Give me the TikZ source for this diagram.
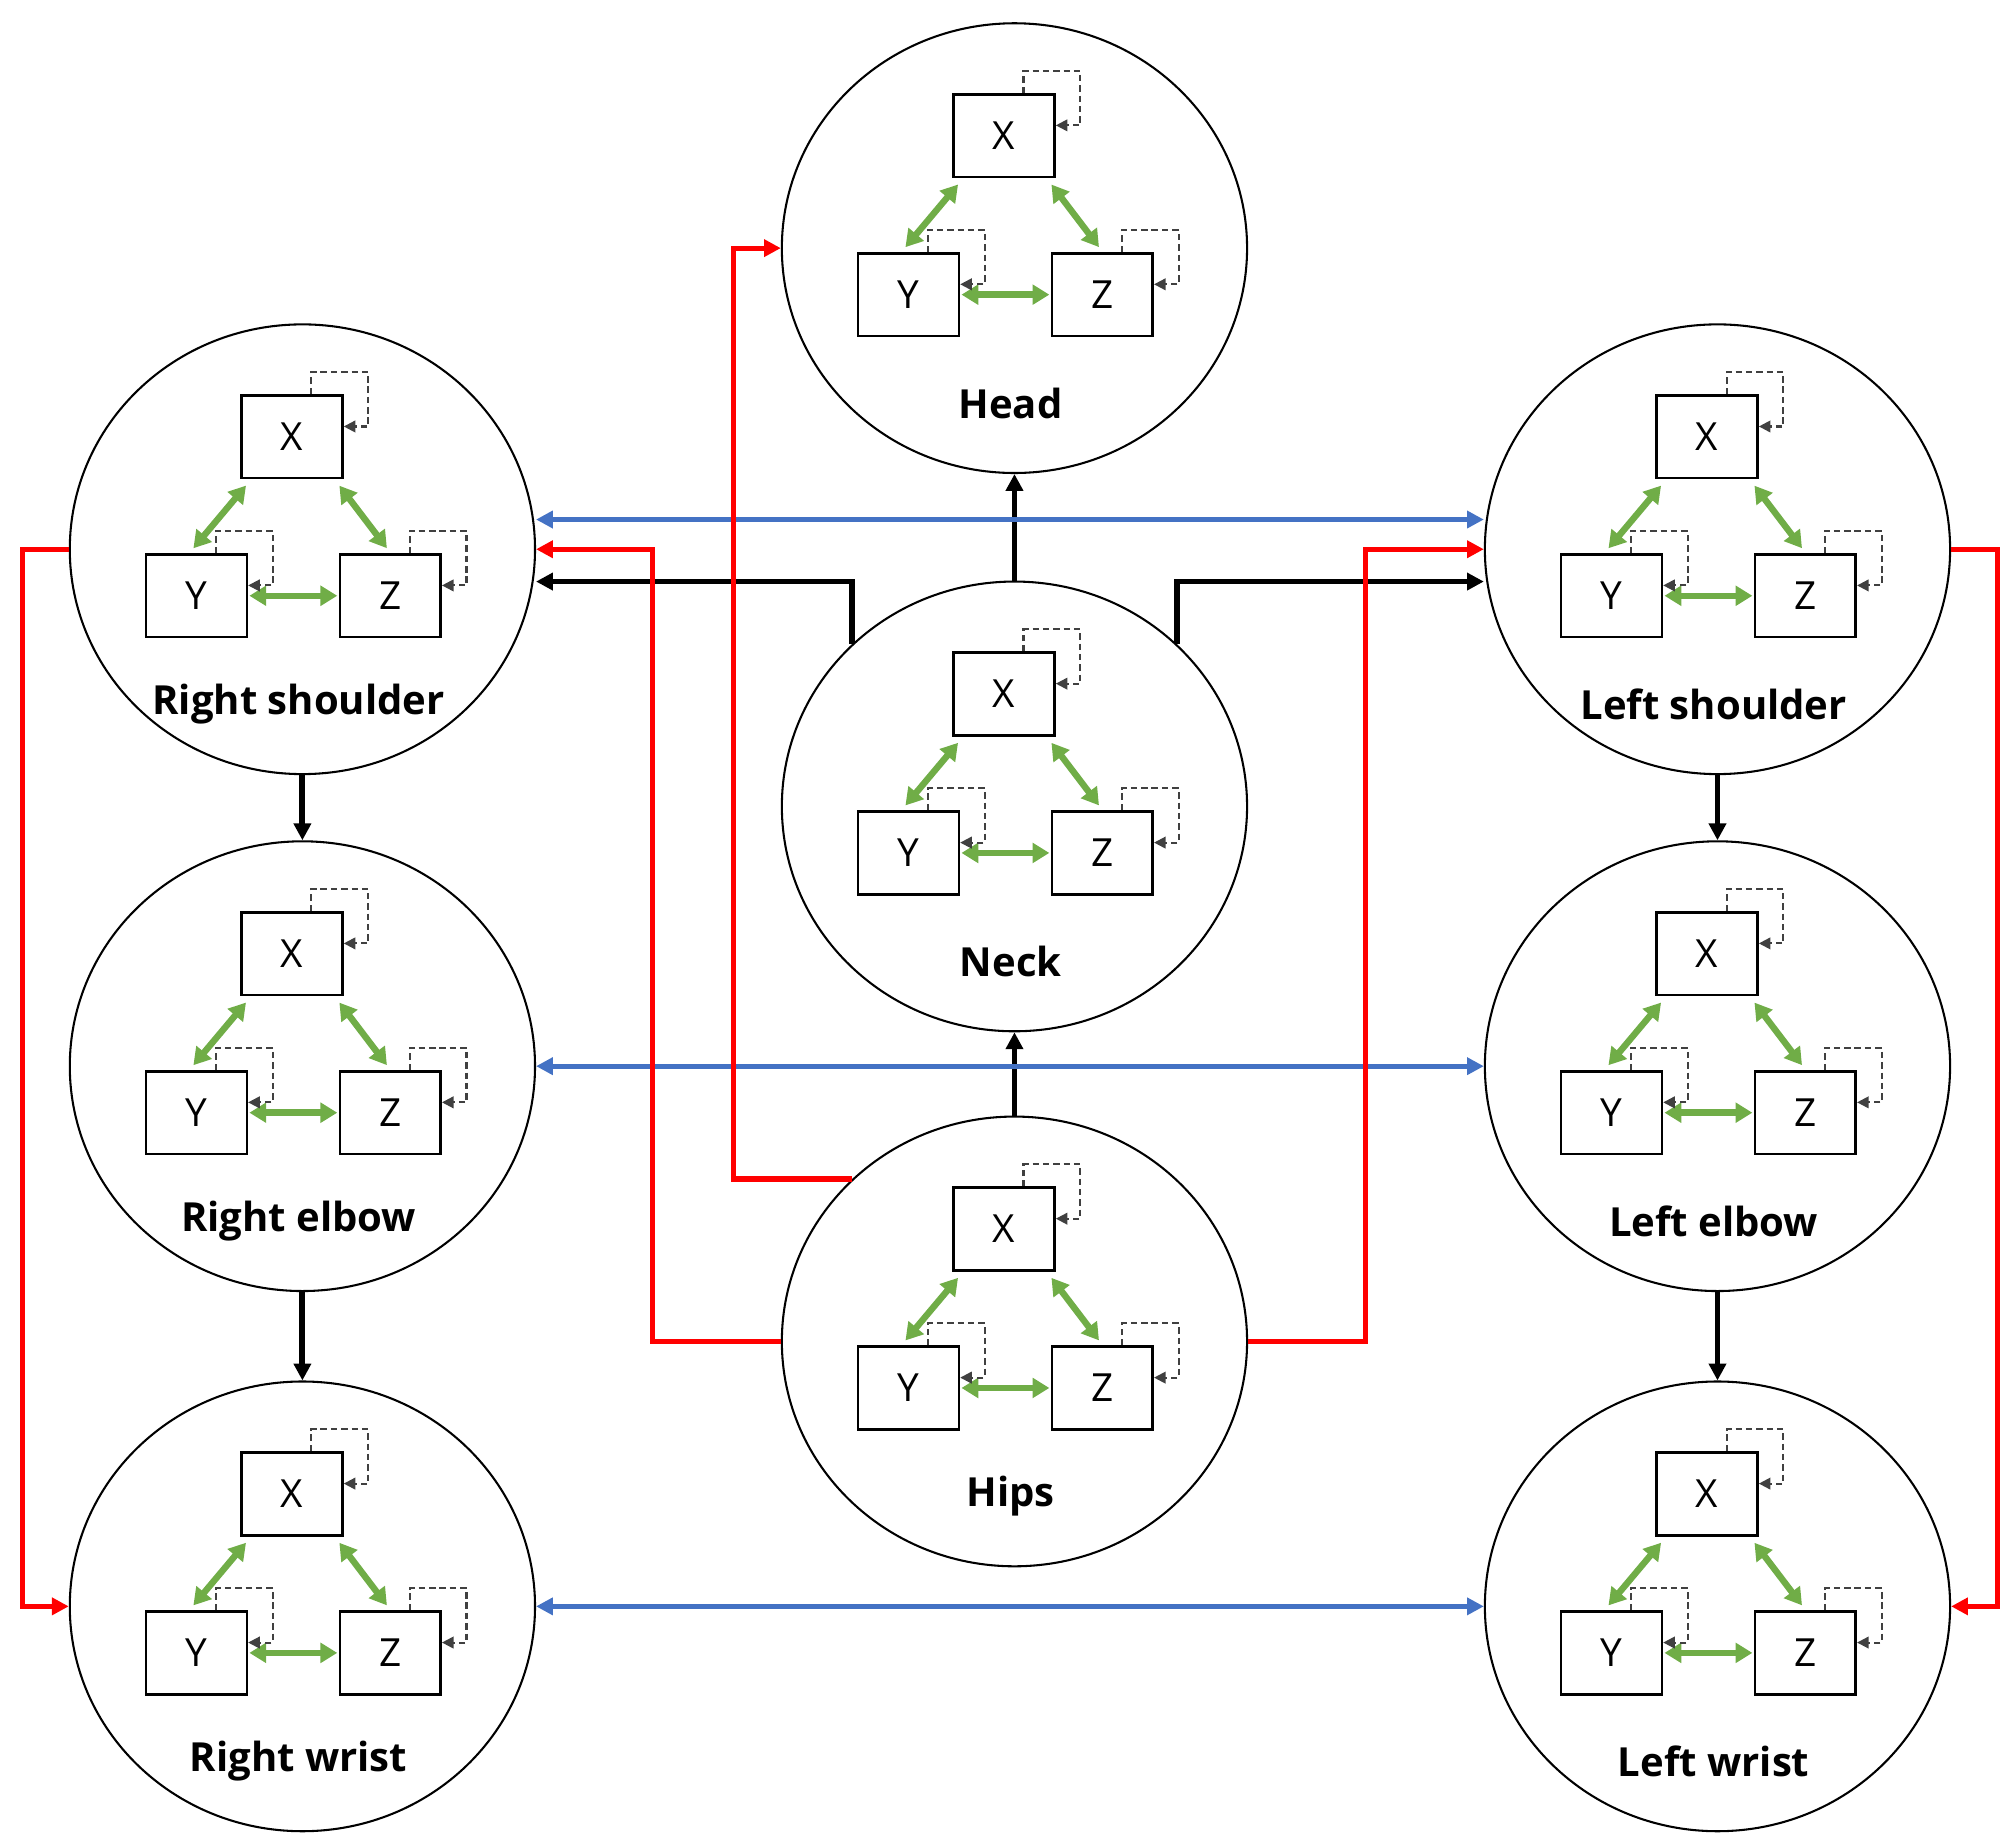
\documentclass[tikz,border=0pt]{standalone}
\usepackage{fontspec}
\setmainfont{Open Sans}
\usetikzlibrary{shapes.geometric,arrows.meta,calc}
\definecolor{gr}{HTML}{70AD47}
\definecolor{bl}{HTML}{4472C4}
\definecolor{rd}{HTML}{FF0000}
\tikzset{
 joint/.style={ellipse,draw,line width=1.6pt,minimum width=360pt,minimum height=348pt,inner sep=0pt},
 box/.style={draw,line width=2pt,minimum width=78pt,minimum height=64pt,inner sep=0pt,font=\fontsize{30}{32}\selectfont},
 lbl/.style={font=\fontsize{31}{33}\selectfont\bfseries},
 gar/.style={draw=gr,line width=5pt,{Triangle[length=13pt,width=15pt]}-{Triangle[length=13pt,width=15pt]},shorten <=1pt,shorten >=1pt},
 sl/.style={draw=black!75,line width=1.6pt,dash pattern=on 5pt off 3pt,-{Triangle[length=9pt,width=9pt]}},
 blk/.style={line width=4.5pt,-{Triangle[length=13pt,width=13pt]}},
 red/.style={draw=rd,line width=4pt,-{Triangle[length=13pt,width=13pt]}},
 blu/.style={draw=bl,line width=4pt,{Triangle[length=13pt,width=13pt]}-{Triangle[length=13pt,width=13pt]}},
}
\newcommand\jnt[4]{%
 \node[joint] (#1) at (#2,#3) {};
 \node[box] (#1x) at (#2-8,#3-87) {X};
 \node[box] (#1y) at (#2-82,#3+36) {Y};
 \node[box] (#1z) at (#2+68,#3+36) {Z};
 \node[lbl] at (#2-3,#3+120) {#4};
 \draw[gar] ($(#1x.south west)+(5,4)$) -- ($(#1y.north)+(-3,-3)$);
 \draw[gar] ($(#1x.south east)+(-4,4)$) -- ($(#1z.north)+(-2,-3)$);
 \draw[gar] (#1y.east) -- (#1z.west);
 \foreach \b in {#1x,#1y,#1z}{
  \draw[sl] ($(\b.north)+(15,0)$) -- ++(0,-17) -| ($(\b.east)+(19,-8)$) -- ($(\b.east)+(0,-8)$);
 }
}
\begin{document}
\begin{tikzpicture}[x=1pt,y=-1pt]
\useasboundingbox (0,0) rectangle (1560,1428);
\jnt{head}{785}{192}{Head}
\jnt{neck}{785}{624}{Neck}
\jnt{hips}{785}{1038}{Hips}
\jnt{rs}{234}{425}{Right shoulder}
\jnt{re}{234}{825}{Right elbow}
\jnt{rw}{234}{1243}{Right wrist}
\jnt{ls}{1329}{425}{Left shoulder}
\jnt{le}{1329}{825}{Left elbow}
\jnt{lw}{1329}{1243}{Left wrist}
% black
\draw[blk] (neck.north) -- (head.south);
\draw[blk] (hips.north) -- (neck.south);
\draw[blk] (neck.135) |- ($(rs.east)+(0,25)$);
\draw[blk] (neck.45) |- ($(ls.west)+(0,25)$);
\draw[blk] (rs.south) -- (re.north);
\draw[blk] (re.south) -- (rw.north);
\draw[blk] (ls.south) -- (le.north);
\draw[blk] (le.south) -- (lw.north);
% blue
\draw[blu] ($(rs.east)+(0,-23)$) -- ($(ls.west)+(0,-23)$);
\draw[blu] (re.east) -- (le.west);
\draw[blu] (rw.east) -- (lw.west);
% red
\draw[red] (hips.135) -- ++(-92,0) |- (head.west);
\draw[red] (hips.west) -- ++(-99,0) |- (rs.east);
\draw[red] (hips.east) -- ++(91,0) |- (ls.west);
\draw[red] (rs.west) -- ++(-36,0) |- (rw.west);
\draw[red] (ls.east) -- ++(36,0) |- (lw.east);
\end{tikzpicture}
\end{document}
